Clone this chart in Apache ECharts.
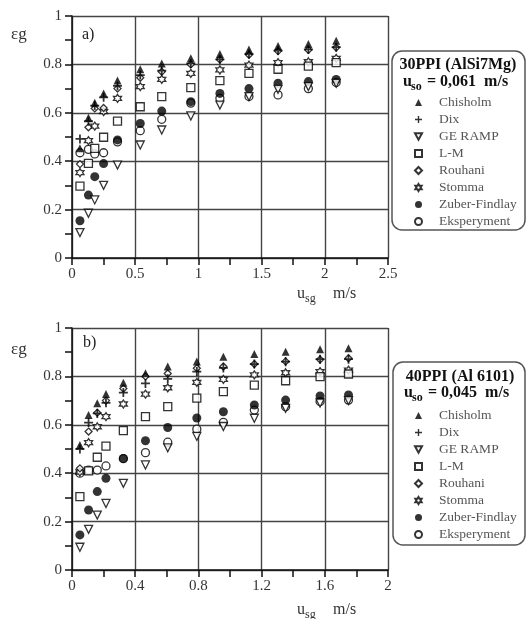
<!DOCTYPE html>
<html>
<head>
<meta charset="utf-8">
<script src="https://cdn.jsdelivr.net/npm/echarts@6/dist/echarts.min.js"></script>
<style>html,body{margin:0;padding:0;background:#fff}#c{width:526px;height:619px}</style>
</head>
<body>
<div id="c"></div>
<script>
// ---------- data ----------
var seriesNames = ['Chisholm', 'Dix', 'GE RAMP', 'L-M', 'Rouhani', 'Stomma', 'Zuber-Findlay', 'Eksperyment'];

// chart a) 30PPI (AlSi7Mg)
var xA = [0.063, 0.13, 0.18, 0.25, 0.36, 0.54, 0.71, 0.94, 1.17, 1.40, 1.63, 1.87, 2.09];
var chisholmA = [0.453, 0.58, 0.642, 0.68, 0.733, 0.78, 0.804, 0.825, 0.843, 0.862, 0.876, 0.884, 0.898];
var dixA      = [0.492, 0.565, 0.63, 0.664, 0.711, 0.756, 0.774, 0.804, 0.821, 0.843, 0.857, 0.862, 0.871];
var geRampA   = [0.105, 0.185, 0.24, 0.30, 0.384, 0.467, 0.529, 0.587, 0.632, 0.667, 0.697, 0.708, 0.722];
var lmA       = [0.297, 0.391, 0.453, 0.499, 0.566, 0.625, 0.667, 0.704, 0.733, 0.763, 0.78, 0.793, 0.807];
var rouhaniA  = [0.388, 0.54, 0.618, 0.62, 0.70, 0.745, 0.77, 0.80, 0.82, 0.84, 0.855, 0.86, 0.87];
var stommaA   = [0.353, 0.485, 0.545, 0.605, 0.66, 0.708, 0.738, 0.763, 0.777, 0.797, 0.807, 0.811, 0.825];
var zuberA    = [0.154, 0.26, 0.336, 0.39, 0.488, 0.556, 0.607, 0.646, 0.68, 0.70, 0.722, 0.729, 0.738];
var ekspA     = [0.435, 0.449, 0.43, 0.435, 0.48, 0.526, 0.573, 0.64, 0.66, 0.667, 0.674, 0.70, 0.725];

// chart b) 40PPI (Al 6101)
var xB = [0.05, 0.105, 0.16, 0.215, 0.325, 0.465, 0.606, 0.79, 0.958, 1.154, 1.352, 1.57, 1.75];
var chisholmB = [0.517, 0.64, 0.689, 0.727, 0.774, 0.813, 0.841, 0.862, 0.881, 0.893, 0.902, 0.912, 0.916];
var dixB      = [0.50, 0.609, 0.647, 0.691, 0.733, 0.771, 0.79, 0.82, 0.835, 0.851, 0.861, 0.871, 0.871];
var geRampB   = [0.094, 0.168, 0.227, 0.275, 0.358, 0.434, 0.505, 0.552, 0.593, 0.627, 0.668, 0.69, 0.70];
var lmB       = [0.303, 0.41, 0.466, 0.512, 0.576, 0.634, 0.675, 0.71, 0.737, 0.764, 0.782, 0.799, 0.81];
var rouhaniB  = [0.42, 0.572, 0.65, 0.70, 0.75, 0.80, 0.812, 0.834, 0.841, 0.851, 0.862, 0.87, 0.875];
var stommaB   = [0.405, 0.526, 0.592, 0.634, 0.686, 0.727, 0.753, 0.775, 0.788, 0.806, 0.815, 0.82, 0.826];
var zuberB    = [0.145, 0.248, 0.324, 0.379, 0.461, 0.534, 0.589, 0.628, 0.654, 0.682, 0.702, 0.719, 0.723];
var ekspB     = [0.40, 0.413, 0.413, 0.43, 0.46, 0.485, 0.528, 0.582, 0.61, 0.661, 0.675, 0.696, 0.702];

// axis ticks
var yTicks  = [0, 0.2, 0.4, 0.6, 0.8, 1];
var xTicksA = [0, 0.5, 1, 1.5, 2, 2.5];
var xTicksB = [0, 0.4, 0.8, 1.2, 1.6, 2];

var titleA = '30PPI (AlSi7Mg)', usoA = '= 0,061  m/s';
var titleB = '40PPI (Al 6101)', usoB = '= 0,045  m/s';

// ---------- styles ----------
var FONT = 'Liberation Serif';
var plusPath = 'path://M4,0H6V4H10V6H6V10H4V6H0V4H4Z';
var starPath = 'path://M5,0L6.5,2.5H9.5L8,5L9.5,7.5H6.5L5,10L3.5,7.5H0.5L2,5L0.5,2.5H3.5Z';
var downTri = 'path://M0,0L10,0L5,9Z';
var hollow = {color: '#fff', borderColor: '#000', borderWidth: 1.3};
var filled = {color: '#000', borderColor: '#000', borderWidth: 0};
var symbolDefs = [
  {symbol: 'triangle', size: 8, style: filled},
  {symbol: plusPath, size: 9, style: filled},
  {symbol: downTri, size: 8, style: hollow},
  {symbol: 'rect', size: 8, style: hollow},
  {symbol: 'diamond', size: 7, style: hollow},
  {symbol: starPath, size: 8, style: hollow},
  {symbol: 'circle', size: 9, style: filled},
  {symbol: 'circle', size: 8, style: hollow}
];
var dataA = [chisholmA, dixA, geRampA, lmA, rouhaniA, stommaA, zuberA, ekspA];
var dataB = [chisholmB, dixB, geRampB, lmB, rouhaniB, stommaB, zuberB, ekspB];

function pairs(xs, ys) { return xs.map(function (x, i) { return [x, ys[i]]; }); }

var series = [];
[[xA, dataA, 0], [xB, dataB, 1]].forEach(function (set) {
  seriesNames.forEach(function (name, k) {
    var d = symbolDefs[k];
    series.push({
      type: 'scatter', name: name, xAxisIndex: set[2], yAxisIndex: set[2],
      data: pairs(set[0], set[1][k]), symbol: d.symbol, symbolSize: d.size,
      itemStyle: d.style, z: 10 - k, emphasis: {disabled: true}, animation: false
    });
  });
});

function xAxisOf(ticks, idx) {
  return {
    type: 'value', gridIndex: idx, min: ticks[0], max: ticks[ticks.length - 1],
    interval: ticks[1] - ticks[0],
    axisLine: {show: true, onZero: false, lineStyle: {color: '#111', width: 1.5}},
    axisTick: {show: true, length: 7, lineStyle: {color: '#111', width: 1.5}},
    minorTick: {show: true, splitNumber: 2, length: 7, lineStyle: {color: '#111', width: 1.5}},
    splitLine: {show: true, lineStyle: {color: '#444', width: 1.4}},
    axisLabel: {color: '#333', fontFamily: FONT, fontSize: 15, margin: 9,
      formatter: function (v) { return String(+v.toFixed(2)); }}
  };
}
function yAxisOf(idx) {
  return {
    type: 'value', gridIndex: idx, min: yTicks[0], max: yTicks[yTicks.length - 1],
    interval: yTicks[1] - yTicks[0],
    axisLine: {show: true, lineStyle: {color: '#111', width: 1.5}},
    axisTick: {show: true, length: 7, lineStyle: {color: '#111', width: 1.5}},
    minorTick: {show: true, splitNumber: 2, length: 7, lineStyle: {color: '#111', width: 1.5}},
    splitLine: {show: true, lineStyle: {color: '#444', width: 1.4}},
    axisLabel: {color: '#333', fontFamily: FONT, fontSize: 15, margin: 10,
      formatter: function (v) { return String(+v.toFixed(2)); }}
  };
}

function legendOf(top) {
  return {
    orient: 'vertical', left: 409, top: top, itemWidth: 7, itemHeight: 7, itemGap: 2,
    selectedMode: false, data: seriesNames,
    textStyle: {color: '#555', fontFamily: FONT, fontSize: 13.5, lineHeight: 15, padding: [0, 0, 0, 12]}
  };
}

function txt(x, y, text, size, weight, align, color) {
  return {type: 'text', x: x, y: y, silent: true, style: {text: text, fill: color || '#111',
    font: (weight || 'normal') + ' ' + size + 'px "' + FONT + '"', textAlign: align || 'left', textVerticalAlign: 'middle'}};
}

var graphic = [
  {type: 'rect', shape: {x: 392, y: 51, width: 133, height: 179, r: 10}, style: {fill: 'none', stroke: '#555', lineWidth: 1.5}},
  {type: 'rect', shape: {x: 393, y: 362, width: 132, height: 183, r: 10}, style: {fill: 'none', stroke: '#555', lineWidth: 1.5}},
  txt(458, 65, titleA, 16, 'bold', 'center'),
  txt(403, 82, 'u', 16, 'bold'), txt(411, 87, 'so', 12, 'bold'), txt(427, 82, usoA, 16, 'bold'),
  txt(460, 377, titleB, 16, 'bold', 'center'),
  txt(404, 393, 'u', 16, 'bold'), txt(412, 398, 'so', 12, 'bold'), txt(428, 393, usoB, 16, 'bold'),
  txt(11, 35, '\u03b5g', 17, 'normal', 'left', '#333'),
  txt(11, 350, '\u03b5g', 17, 'normal', 'left', '#333'),
  txt(82, 35, 'a)', 16, 'normal', 'left', '#222'),
  txt(83, 343, 'b)', 16, 'normal', 'left', '#222'),
  txt(297, 294, 'u', 16, 'normal', 'left', '#333'), txt(305, 299, 'sg', 12, 'normal', 'left', '#333'), txt(333, 294, 'm/s', 16, 'normal', 'left', '#333'),
  txt(297, 610, 'u', 16, 'normal', 'left', '#333'), txt(305, 615, 'sg', 12, 'normal', 'left', '#333'), txt(333, 610, 'm/s', 16, 'normal', 'left', '#333')
];

var chart = echarts.init(document.getElementById('c'), null, {renderer: 'canvas'});
chart.setOption({
  animation: false,
  backgroundColor: '#fff',
  grid: [
    {left: 72, top: 16, width: 316, height: 242},
    {left: 72, top: 328, width: 316, height: 242}
  ],
  xAxis: [xAxisOf(xTicksA, 0), xAxisOf(xTicksB, 1)],
  yAxis: [yAxisOf(0), yAxisOf(1)],
  legend: [legendOf(90), legendOf(403)],
  series: series,
  graphic: graphic
});
</script>
</body>
</html>
